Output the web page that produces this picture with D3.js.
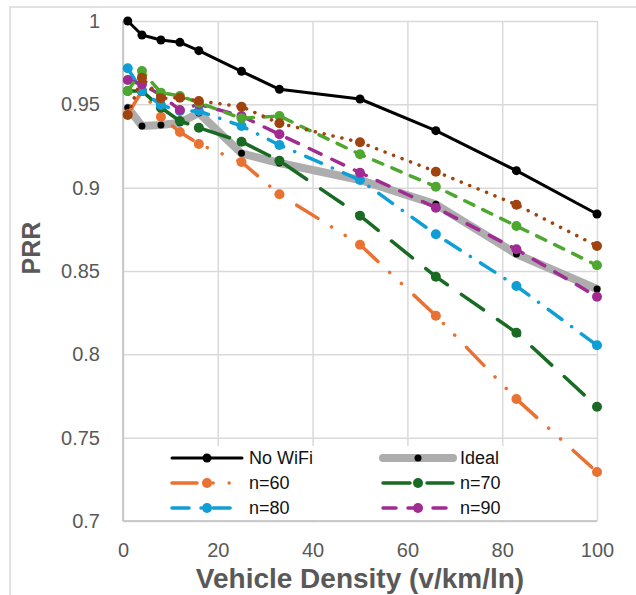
<!DOCTYPE html>
<html>
<head>
<meta charset="utf-8" />
<title>PRR</title>
<style>
  body { margin: 0; background: #fff; }
  text { font-family: "Liberation Sans", Arial, sans-serif; }
</style>
</head>
<body>
<svg id="chart" width="636" height="595"></svg>
<script src="https://d3js.org/d3.v7.min.js"></script>
<script>

// vehicle density (v/km/ln)
var density = [1, 4, 8, 12, 16, 25, 33, 50, 66, 83, 100];

var noWifi = [1.0, 0.9916, 0.9886, 0.9872, 0.9822, 0.9698, 0.959, 0.9532, 0.9342, 0.9102, 0.8842];
var ideal  = [0.948, 0.937, 0.9376, 0.939, 0.9448, 0.9206, 0.9148, 0.9046, 0.890, 0.8602, 0.8392];
var n60    = [0.944, 0.958, 0.9426, 0.9334, 0.9262, 0.9154, 0.896, 0.8658, 0.8232, 0.7732, 0.7294];
var n70    = [0.958, 0.958, 0.948, 0.940, 0.936, 0.9276, 0.9162, 0.8832, 0.8466, 0.813, 0.7686];
var n80    = [0.9716, 0.958, 0.9496, 0.946, 0.946, 0.937, 0.9256, 0.9046, 0.872, 0.841, 0.8054];
var n90    = [0.9646, 0.962, 0.9556, 0.9466, 0.950, 0.943, 0.932, 0.909, 0.888, 0.863, 0.8346];
// two more series that have no legend entry
var extraGreen = [0.958, 0.970, 0.957, 0.955, 0.951, 0.9416, 0.943, 0.920, 0.9006, 0.877, 0.8534];
var extraBrown = [0.9436, 0.966, 0.9536, 0.954, 0.952, 0.9486, 0.9386, 0.9272, 0.9096, 0.8898, 0.865];

var xTicks = [0, 20, 40, 60, 80, 100];
var yTicks = [0.7, 0.75, 0.8, 0.85, 0.9, 0.95, 1];

var series = [
  {name: "No WiFi", values: noWifi, color: "#000000", width: 3, dash: null, mColor: "#000000", r: 4.5, legend: [0, 0]},
  {name: "Ideal", values: ideal, color: "#adadad", width: 8, dash: null, mColor: "#000000", r: 3.5, legend: [1, 0]},
  {name: "n=60", values: n60, color: "#e97132", width: 3.5, dash: "25,16,0.1,16,0.1,17", mColor: "#e97132", r: 5, legend: [0, 1]},
  {name: "n=70", values: n70, color: "#196b24", width: 3.5, dash: "27,17", mColor: "#196b24", r: 5, legend: [1, 1]},
  {name: "n=80", values: n80, color: "#0f9ed5", width: 3.5, dash: "17,12,0.1,12", mColor: "#0f9ed5", r: 5, legend: [0, 2]},
  {name: "n=90", values: n90, color: "#a02b93", width: 3.5, dash: "13,12", mColor: "#a02b93", r: 5, legend: [1, 2]},
  {name: "", values: extraGreen, color: "#4ea72e", width: 3.5, dash: "10,10", mColor: "#4ea72e", r: 5, legend: null},
  {name: "", values: extraBrown, color: "#a0440f", width: 3.5, dash: "0.1,9", mColor: "#a0440f", r: 5, legend: null}
];

var svg = d3.select("#chart");

var x = d3.scaleLinear().domain([0, 100]).range([123, 597]);
var y = d3.scaleLinear().domain([0.7, 1]).range([521, 21]);

// chart frame
svg.append("rect")
  .attr("x", 10).attr("y", 7)
  .attr("width", 700).attr("height", 700)
  .attr("fill", "#fff")
  .attr("stroke", "#d9d9d9").attr("stroke-width", 1.5);

// gridlines
svg.append("g")
  .attr("transform", "translate(0,521)")
  .call(d3.axisBottom(x).tickValues(xTicks).tickSize(-500).tickFormat(""))
  .call(function(g){
    g.select(".domain").remove();
    g.selectAll("line").attr("stroke", "#d9d9d9").attr("stroke-width", 1.5);
  });
svg.append("g")
  .attr("transform", "translate(123,0)")
  .call(d3.axisLeft(y).tickValues(yTicks).tickSize(-474).tickFormat(""))
  .call(function(g){
    g.select(".domain").remove();
    g.selectAll("line").attr("stroke", "#d9d9d9").attr("stroke-width", 1.5);
  });

// axis lines
svg.append("line").attr("x1", 123).attr("x2", 123).attr("y1", 21).attr("y2", 521)
  .attr("stroke", "#bfbfbf").attr("stroke-width", 1.5);
svg.append("line").attr("x1", 123).attr("x2", 597).attr("y1", 521).attr("y2", 521)
  .attr("stroke", "#bfbfbf").attr("stroke-width", 1.5);

// tick labels
var yAxis = svg.append("g")
  .attr("transform", "translate(123,0)")
  .call(d3.axisLeft(y).tickValues(yTicks).tickSize(0).tickPadding(23)
    .tickFormat(function(d){ return d3.format("")(+d.toFixed(2)); }));
yAxis.select(".domain").remove();
yAxis.selectAll("text")
  .attr("fill", "#595959")
  .style("font-size", "20px")
  .style("font-family", "'Liberation Sans', Arial, sans-serif");

var xAxis = svg.append("g")
  .attr("transform", "translate(0,521)")
  .call(d3.axisBottom(x).tickValues(xTicks).tickSize(0).tickPadding(22));
xAxis.select(".domain").remove();
xAxis.selectAll("text")
  .attr("fill", "#595959")
  .style("font-size", "20px")
  .style("font-family", "'Liberation Sans', Arial, sans-serif");

// axis titles
svg.append("text")
  .attr("x", 360).attr("y", 588)
  .attr("text-anchor", "middle")
  .attr("fill", "#595959")
  .style("font-size", "28px").style("font-weight", "bold")
  .text("Vehicle Density (v/km/ln)");

svg.append("text")
  .attr("transform", "translate(40,248) rotate(-90)")
  .attr("text-anchor", "middle")
  .attr("fill", "#595959")
  .style("font-size", "25px").style("font-weight", "bold")
  .text("PRR");

// series
var line = d3.line()
  .x(function(d){ return x(d[0]); })
  .y(function(d){ return y(d[1]); });

series.forEach(function(s){
  var pts = density.map(function(d, i){ return [d, s.values[i]]; });
  var g = svg.append("g");
  g.append("path")
    .datum(pts)
    .attr("d", line)
    .attr("fill", "none")
    .attr("stroke", s.color)
    .attr("stroke-width", s.width)
    .attr("stroke-linecap", "round")
    .attr("stroke-linejoin", "round")
    .attr("stroke-dasharray", s.dash);
  g.selectAll("circle")
    .data(pts)
    .enter().append("circle")
    .attr("cx", function(d){ return x(d[0]); })
    .attr("cy", function(d){ return y(d[1]); })
    .attr("r", s.r)
    .attr("fill", s.mColor);
});

// legend
var legend = svg.append("g");
legend.append("rect")
  .attr("x", 158).attr("y", 446)
  .attr("width", 364).attr("height", 74)
  .attr("fill", "#fff");

var colX = [172, 383];
var rowY = [458, 483, 508];

series.filter(function(s){ return s.legend; }).forEach(function(s){
  var lx = colX[s.legend[0]], ly = rowY[s.legend[1]];
  var item = legend.append("g");
  item.append("line")
    .attr("x1", lx).attr("x2", lx + 70)
    .attr("y1", ly).attr("y2", ly)
    .attr("stroke", s.color)
    .attr("stroke-width", s.width)
    .attr("stroke-linecap", "round")
    .attr("stroke-dasharray", s.dash);
  item.append("circle")
    .attr("cx", lx + 35).attr("cy", ly)
    .attr("r", s.r)
    .attr("fill", s.mColor);
  item.append("text")
    .attr("x", lx + 77).attr("y", ly)
    .attr("dy", "0.35em")
    .attr("fill", "#111")
    .style("font-size", "18px")
    .text(s.name);
});

</script>
</body>
</html>
